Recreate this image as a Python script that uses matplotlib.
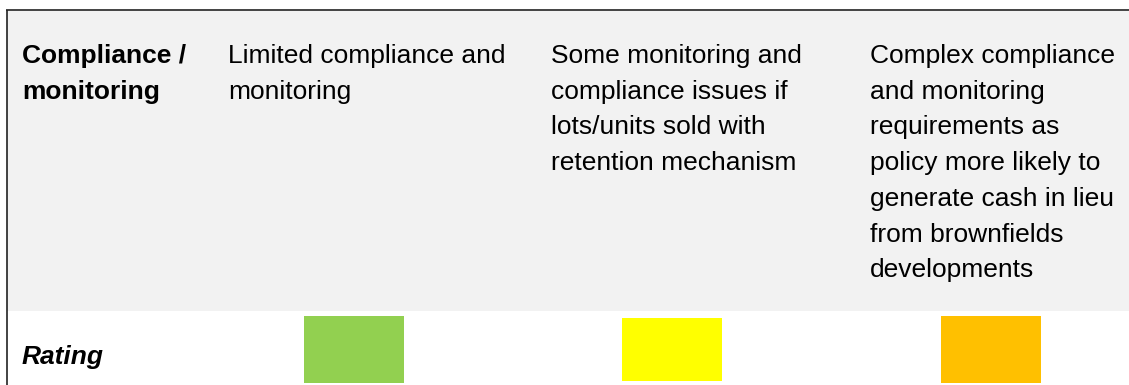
import matplotlib.pyplot as plt
from matplotlib.patches import Rectangle

# table content
row_header = "Compliance /\nmonitoring"
rating_label = "Rating"
descriptions = [
    "Limited compliance and\nmonitoring",
    "Some monitoring and\ncompliance issues if\nlots/units sold with\nretention mechanism",
    "Complex compliance\nand monitoring\nrequirements as\npolicy more likely to\ngenerate cash in lieu\nfrom brownfields\ndevelopments",
]
rating_colors = ["#92D050", "#FFFF00", "#FFC000"]

# layout (pixels)
W, H = 1129, 385
text_x = [228, 551, 870]
box_centers = [354, 672, 991]
box_width = 100
box_top = [316, 318, 316]
box_height = [67, 63, 67]
first_baseline = 63
line_step = 35.7
fsize = 19
fam = ["Liberation Sans", "DejaVu Sans"]

fig = plt.figure(figsize=(W / 100, H / 100), dpi=100)
ax = fig.add_axes([0, 0, 1, 1])
ax.set_xlim(0, W)
ax.set_ylim(H, 0)
ax.axis("off")

# grey top row
ax.add_patch(Rectangle((7, 10.5), W - 7, 300.5, facecolor="#F2F2F2", edgecolor="none"))
# borders
ax.plot([6, W], [10, 10], color="#222222", lw=1.2, solid_capstyle="butt")
ax.plot([6.5, 6.5], [10, H], color="#222222", lw=1.2, solid_capstyle="butt")


def put_lines(x, txt, **kw):
    for i, line in enumerate(txt.split("\n")):
        ax.text(x, first_baseline + i * line_step, line, va="baseline", ha="left",
                fontsize=fsize, family=fam, color="black", **kw)


put_lines(22, row_header, fontweight="bold")
for x, d in zip(text_x, descriptions):
    put_lines(x, d)

ax.text(22, 364, rating_label, va="baseline", ha="left", fontsize=fsize, family=fam,
        fontweight="bold", fontstyle="italic")

ax.bar(box_centers, box_height, width=box_width, bottom=box_top, color=rating_colors)

fig.savefig("out.png", dpi=100)
